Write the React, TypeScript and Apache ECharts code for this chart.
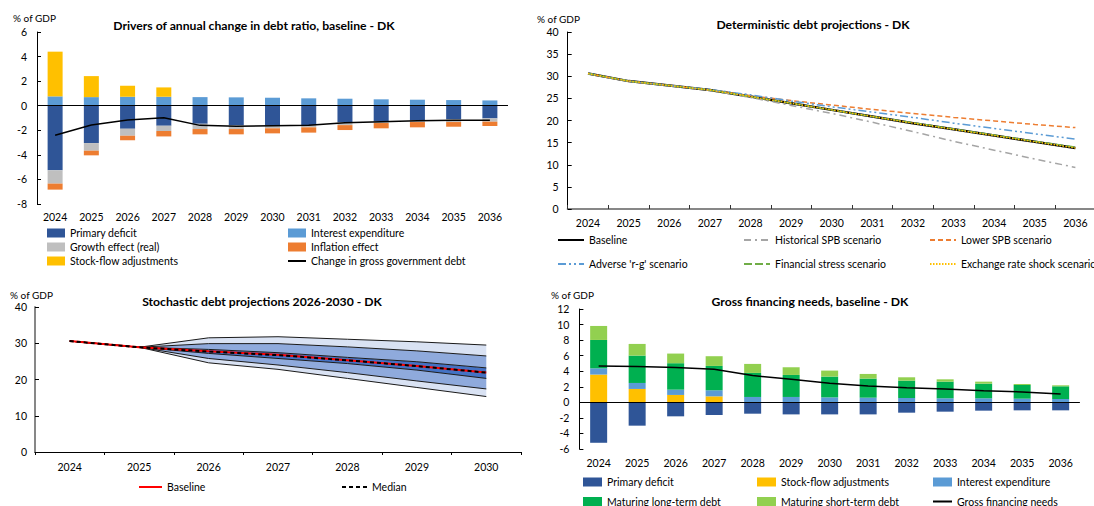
import React, { useEffect, useRef } from "react";
import * as echarts from "echarts";

const FONT = "Lato, 'Liberation Sans', sans-serif";

// ---------- Panel 1: drivers of annual change in debt ratio ----------
const years13 = ["2024", "2025", "2026", "2027", "2028", "2029", "2030", "2031", "2032", "2033", "2034", "2035", "2036"];
const p1PrimaryDeficit = [-5.26, -3.04, -1.87, -1.63, -1.47, -1.6, -1.57, -1.57, -1.36, -1.25, -1.17, -1.09, -1.03];
const p1Interest = [0.76, 0.7, 0.73, 0.73, 0.7, 0.68, 0.65, 0.6, 0.57, 0.52, 0.49, 0.46, 0.43];
const p1Growth = [-1.08, -0.62, -0.57, -0.43, -0.43, -0.3, -0.27, -0.19, -0.22, -0.16, -0.16, -0.24, -0.27];
const p1Inflation = [-0.49, -0.38, -0.38, -0.44, -0.43, -0.43, -0.41, -0.43, -0.4, -0.43, -0.43, -0.38, -0.35];
const p1StockFlow = [3.64, 1.71, 0.9, 0.76, 0, 0, 0, 0, 0, 0, 0, 0, 0];
const p1Change = [-2.41, -1.57, -1.17, -0.98, -1.6, -1.68, -1.63, -1.6, -1.38, -1.3, -1.22, -1.19, -1.19];

// ---------- Panel 2: deterministic debt projections ----------
const p2Baseline = [30.6, 28.9, 27.9, 26.9, 25.4, 23.9, 22.4, 20.9, 19.4, 18.0, 16.6, 15.2, 13.8];
const p2Historical = [30.6, 28.9, 27.9, 26.8, 25.2, 23.4, 21.6, 19.6, 17.5, 15.3, 13.3, 11.3, 9.4];
const p2LowerSPB = [30.6, 28.9, 27.9, 26.9, 25.6, 24.5, 23.5, 22.5, 21.6, 20.7, 19.9, 19.1, 18.4];
const p2AdverseRG = [30.6, 28.9, 27.9, 27.0, 25.8, 24.4, 23.1, 21.9, 20.7, 19.4, 18.2, 17.0, 15.8];
const p2FinStress = [30.6, 28.9, 27.9, 26.9, 25.4, 23.9, 22.4, 20.9, 19.5, 18.1, 16.7, 15.3, 14.0];
const p2ExchRate = [30.6, 28.9, 27.9, 26.9, 25.4, 23.9, 22.4, 20.9, 19.4, 18.0, 16.6, 15.2, 13.8];

// ---------- Panel 3: stochastic debt projections ----------
const years7 = ["2024", "2025", "2026", "2027", "2028", "2029", "2030"];
const p3P10 = [30.6, 28.9, 24.6, 22.8, 20.3, 17.8, 15.3];
const p3P20 = [30.6, 28.9, 25.8, 24.0, 21.9, 19.6, 17.4];
const p3P40 = [30.6, 28.9, 27.2, 25.8, 24.4, 22.6, 20.3];
const p3P60 = [30.6, 28.9, 28.3, 27.4, 26.1, 24.9, 23.2];
const p3P80 = [30.6, 28.9, 29.9, 29.9, 29.0, 27.9, 26.5];
const p3P90 = [30.6, 28.9, 31.5, 31.8, 31.1, 30.4, 29.5];
const p3Baseline = [30.6, 28.9, 27.8, 26.8, 25.3, 23.7, 21.9];
const p3Median = [30.6, 28.9, 27.7, 26.7, 25.3, 23.7, 21.9];

// ---------- Panel 4: gross financing needs ----------
const p4PrimaryDeficit = [-5.2, -3.0, -1.8, -1.63, -1.46, -1.55, -1.55, -1.55, -1.33, -1.2, -1.07, -1.03, -1.03];
const p4StockFlow = [3.57, 1.72, 0.95, 0.77, 0, 0, 0, 0, 0, 0, 0, 0, 0];
const p4Interest = [0.8, 0.77, 0.68, 0.78, 0.69, 0.69, 0.64, 0.6, 0.56, 0.52, 0.52, 0.47, 0.43];
const p4LongTerm = [3.65, 3.52, 3.4, 3.13, 3.09, 2.83, 2.67, 2.45, 2.23, 2.14, 1.88, 1.76, 1.63];
const p4ShortTerm = [1.8, 1.5, 1.24, 1.25, 1.16, 0.99, 0.77, 0.6, 0.43, 0.3, 0.26, 0.13, 0.13];
const p4GFN = [4.68, 4.6, 4.47, 4.25, 3.44, 2.96, 2.45, 2.1, 1.89, 1.72, 1.5, 1.33, 1.07];

const C = {
  darkBlue: "#2F5597",
  blue: "#5B9BD5",
  grey: "#BFBFBF",
  orange: "#ED7D31",
  yellow: "#FFC000",
  green: "#00B050",
  lightGreen: "#92D050",
  fanOuter: "#D9E2F3",
  fanMid: "#8FAADC",
  fanInner: "#4472C4",
};

const LABEL = { color: "#000", fontSize: 10.5, fontFamily: FONT };
const LEG_TEXT = { color: "#000", fontSize: 10.5, fontFamily: FONT, lineHeight: 14 };

function title(text: string, x: number, y: number) {
  return {
    type: "text",
    x,
    y,
    style: { text, textAlign: "center", textVerticalAlign: "middle", font: `bold 12.2px ${FONT}`, fill: "#000" },
  };
}
function unit(x: number, y: number) {
  return {
    type: "text",
    x,
    y,
    style: { text: "% of GDP", textAlign: "left", textVerticalAlign: "middle", font: `10px ${FONT}`, fill: "#000" },
  };
}
function legend(left: number, top: number, data: any[], w: number, h: number, gap: number) {
  return {
    orient: "vertical",
    left,
    top,
    itemWidth: w,
    itemHeight: h,
    itemGap: gap,
    padding: 0,
    textStyle: LEG_TEXT,
    data,
    selectedMode: false,
  };
}
// a line-series legend entry: the line only, without the marker circle
function lineItem(name: string) {
  return { name, itemStyle: { opacity: 0 } };
}
const zeroLine = {
  silent: true,
  symbol: "none",
  label: { show: false },
  lineStyle: { color: "#000", width: 1, type: "solid" },
  data: [{ yAxis: 0 }],
};

function bar(name: string, data: number[], color: string, width: number, extra: any = {}) {
  return { name, type: "bar", stack: "s", data, barWidth: width, itemStyle: { color }, ...extra };
}
function line(name: string, data: number[], color: string, width: number, type: any = "solid", z = 3) {
  return { name, type: "line", data, symbol: "none", z, lineStyle: { color, width, type }, itemStyle: { color } };
}

const option1 = {
  animation: false,
  grid: { left: 37, top: 32, width: 471, height: 172 },
  xAxis: {
    type: "category",
    data: years13,
    axisLine: { show: false },
    axisTick: { show: false },
    axisLabel: { ...LABEL, margin: 7 },
  },
  yAxis: {
    type: "value",
    min: -8,
    max: 6,
    interval: 2,
    axisLine: { show: true, lineStyle: { color: "#000" } },
    axisTick: { show: true, inside: true, length: 4, lineStyle: { color: "#000" } },
    splitLine: { show: false },
    axisLabel: { ...LABEL, margin: 10 },
  },
  legend: [
    legend(47, 226, [
      { name: "Primary deficit", icon: "rect" },
      { name: "Growth effect (real)", icon: "rect" },
      { name: "Stock-flow adjustments", icon: "rect" },
    ], 18, 9, 0),
    legend(287, 226, [
      { name: "Interest expenditure", icon: "rect" },
      { name: "Inflation effect", icon: "rect" },
      lineItem("Change in gross government debt"),
    ], 18, 9, 0),
  ],
  graphic: [title("Drivers of annual change in debt ratio, baseline - DK", 254, 25), unit(13, 18)],
  series: [
    bar("Primary deficit", p1PrimaryDeficit, C.darkBlue, 15, { markLine: zeroLine }),
    bar("Interest expenditure", p1Interest, C.blue, 15),
    bar("Growth effect (real)", p1Growth, C.grey, 15),
    bar("Inflation effect", p1Inflation, C.orange, 15),
    bar("Stock-flow adjustments", p1StockFlow, C.yellow, 15),
    line("Change in gross government debt", p1Change, "#000", 1.5, "solid", 5),
  ],
};

const option2 = {
  animation: false,
  grid: { left: 37.7, top: 32, width: 528, height: 177 },
  xAxis: {
    type: "category",
    data: years13,
    axisLine: { show: true, lineStyle: { color: "#878787", width: 2 } },
    axisTick: { show: true, inside: true, length: 4, lineStyle: { color: "#333" } },
    axisLabel: { ...LABEL, margin: 8 },
  },
  yAxis: {
    type: "value",
    min: 0,
    max: 40,
    interval: 5,
    axisLine: { show: true, lineStyle: { color: "#000" } },
    axisTick: { show: true, inside: true, length: 4, lineStyle: { color: "#000" } },
    splitLine: { show: false },
    axisLabel: { ...LABEL, margin: 9 },
  },
  legend: [
    legend(27, 233, [lineItem("Baseline"), lineItem("Adverse 'r-g' scenario")], 26, 9, 10),
    legend(213, 233, [lineItem("Historical SPB scenario"), lineItem("Financial stress scenario")], 26, 9, 10),
    legend(399, 233, [lineItem("Lower SPB scenario"), lineItem("Exchange rate shock scenario")], 26, 9, 10),
  ],
  graphic: [title("Deterministic debt projections - DK", 283, 24), unit(7, 19)],
  series: [
    line("Baseline", p2Baseline, "#000", 2.5),
    line("Historical SPB scenario", p2Historical, "#A5A5A5", 1.5, [7, 4, 2, 4]),
    line("Lower SPB scenario", p2LowerSPB, C.orange, 1.5, [5, 3]),
    line("Adverse 'r-g' scenario", p2AdverseRG, C.blue, 1.5, [8, 3, 2, 3, 2, 3]),
    line("Financial stress scenario", p2FinStress, "#70AD47", 1.5, [8, 3]),
    line("Exchange rate shock scenario", p2ExchRate, C.yellow, 1.5, [1.5, 1.5]),
  ],
};

function diff(a: number[], b: number[]) {
  return a.map((v, i) => +(v - b[i]).toFixed(2));
}
function fanBand(name: string, data: number[], fill: string | null) {
  return {
    name,
    type: "line",
    stack: "fan",
    data,
    symbol: "none",
    lineStyle: { color: "#1a1a1a", width: 1 },
    areaStyle: fill ? { color: fill, opacity: 1 } : undefined,
    z: 2,
  };
}

const option3 = {
  animation: false,
  grid: { left: 35, top: 27, width: 486, height: 145 },
  xAxis: {
    type: "category",
    data: years7,
    axisLine: { show: true, lineStyle: { color: "#000", width: 1 } },
    axisTick: { show: true, length: 3, lineStyle: { color: "#000" } },
    axisLabel: { ...LABEL, margin: 9 },
  },
  yAxis: {
    type: "value",
    min: 0,
    max: 40,
    interval: 10,
    axisLine: { show: true, lineStyle: { color: "#878787", width: 2 } },
    axisTick: { show: true, inside: true, length: 4, lineStyle: { color: "#000" } },
    splitLine: { show: false },
    axisLabel: { ...LABEL, margin: 8 },
  },
  legend: [
    legend(138, 200, [lineItem("Baseline")], 23, 9, 0),
    legend(341, 200, [lineItem("Median")], 25, 9, 0),
  ],
  graphic: [title("Stochastic debt projections 2026-2030 - DK", 262, 21), unit(10, 15)],
  series: [
    fanBand("p10", p3P10, null),
    fanBand("p10-p20", diff(p3P20, p3P10), C.fanOuter),
    fanBand("p20-p40", diff(p3P40, p3P20), C.fanMid),
    fanBand("p40-p60", diff(p3P60, p3P40), C.fanInner),
    fanBand("p60-p80", diff(p3P80, p3P60), C.fanMid),
    fanBand("p80-p90", diff(p3P90, p3P80), C.fanOuter),
    line("Baseline", p3Baseline, "#FF0000", 2, "solid", 6),
    line("Median", p3Median, "#000", 2, [4, 3], 7),
  ],
};

const option4 = {
  animation: false,
  grid: { left: 49.4, top: 29, width: 500.5, height: 140 },
  xAxis: {
    type: "category",
    data: years13,
    axisLine: { show: false },
    axisTick: { show: false },
    axisLabel: { ...LABEL, margin: 8 },
  },
  yAxis: {
    type: "value",
    min: -6,
    max: 12,
    interval: 2,
    axisLine: { show: true, lineStyle: { color: "#000" } },
    axisTick: { show: true, inside: true, length: 4, lineStyle: { color: "#000" } },
    splitLine: { show: false },
    axisLabel: { ...LABEL, margin: 10 },
  },
  legend: [
    legend(53, 195, [
      { name: "Primary deficit", icon: "rect" },
      { name: "Maturing long-term debt", icon: "rect" },
    ], 19, 9, 5.5),
    legend(227, 195, [
      { name: "Stock-flow adjustments", icon: "rect" },
      { name: "Maturing short-term debt", icon: "rect" },
    ], 19, 9, 5.5),
    legend(402, 195, [
      { name: "Interest expenditure", icon: "rect" },
      lineItem("Gross financing needs"),
    ], 19, 9, 5.5),
  ],
  graphic: [title("Gross financing needs, baseline - DK", 280, 21), unit(21, 15)],
  series: [
    bar("Primary deficit", p4PrimaryDeficit, C.darkBlue, 17, { markLine: zeroLine }),
    bar("Stock-flow adjustments", p4StockFlow, C.yellow, 17),
    bar("Interest expenditure", p4Interest, C.blue, 17),
    bar("Maturing long-term debt", p4LongTerm, C.green, 17),
    bar("Maturing short-term debt", p4ShortTerm, C.lightGreen, 17),
    line("Gross financing needs", p4GFN, "#000", 1.5, "solid", 5),
  ],
};

function Panel({ option, style }: { option: any; style: React.CSSProperties }) {
  const ref = useRef<HTMLDivElement>(null);
  useEffect(() => {
    const chart = echarts.init(ref.current!, null, { renderer: "svg" });
    chart.setOption({ textStyle: { fontFamily: FONT }, ...option });
    return () => chart.dispose();
  }, [option]);
  return <div ref={ref} style={{ position: "absolute", overflow: "hidden", ...style }} />;
}

export default function App() {
  return (
    <div style={{ position: "fixed", left: 0, top: 0, width: 1094, height: 506, background: "#fff", overflow: "hidden" }}>
      <Panel option={option1} style={{ left: 0, top: 0, width: 530, height: 280 }} />
      <Panel option={option2} style={{ left: 530, top: 0, width: 600, height: 280 }} />
      <Panel option={option3} style={{ left: 0, top: 280, width: 530, height: 226 }} />
      <Panel option={option4} style={{ left: 530, top: 280, width: 564, height: 260 }} />
    </div>
  );
}
